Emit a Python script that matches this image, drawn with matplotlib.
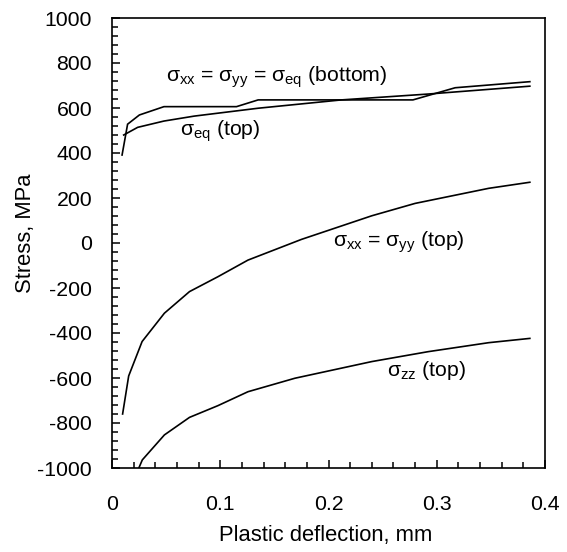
import matplotlib
matplotlib.use("Agg")
import matplotlib.pyplot as plt
from matplotlib.ticker import MultipleLocator

plt.rcParams['font.family'] = ['Liberation Sans', 'DejaVu Sans']
plt.rcParams['mathtext.fontset'] = 'custom'
plt.rcParams['mathtext.rm'] = 'Liberation Sans'
plt.rcParams['mathtext.it'] = 'Liberation Sans'
plt.rcParams['mathtext.bf'] = 'Liberation Sans'
plt.rcParams['axes.unicode_minus'] = False

# sigma_xx = sigma_yy = sigma_eq (bottom)
x_bottom = [0.0093, 0.0144, 0.0253, 0.048, 0.115, 0.135, 0.278, 0.317, 0.386]
y_bottom = [391, 528, 569, 606, 606, 636, 636, 690, 717]

# sigma_eq (top)
x_eq_top = [0.0108, 0.0237, 0.048, 0.076, 0.135, 0.212, 0.292, 0.386]
y_eq_top = [480, 514, 542, 564, 599, 636, 662, 697]

# sigma_xx = sigma_yy (top)
x_xx_top = [0.0098, 0.0154, 0.0278, 0.0484, 0.0716, 0.0978, 0.1256, 0.175, 0.240, 0.280, 0.348, 0.386]
y_xx_top = [-760, -591, -438, -312, -216, -150, -76, 16, 121, 176, 243, 270]

# sigma_zz (top)
x_zz_top = [0.0247, 0.028, 0.0484, 0.0716, 0.0978, 0.1256, 0.169, 0.240, 0.292, 0.348, 0.386]
y_zz_top = [-1001, -964, -853, -775, -723, -661, -601, -527, -483, -443, -424]

x_ticks = [0, 0.1, 0.2, 0.3, 0.4]
x_tick_labels = ['0', '0.1', '0.2', '0.3', '0.4']

W, H = 567, 552
fig = plt.figure(figsize=(W / 100, H / 100), dpi=100)
left, right, top, bottom = 112, 545, 18, 468
ax = fig.add_axes([left / W, 1 - bottom / H, (right - left) / W, (bottom - top) / H])

lw = 1.2
for xs, ys in [(x_bottom, y_bottom), (x_eq_top, y_eq_top), (x_xx_top, y_xx_top), (x_zz_top, y_zz_top)]:
    ax.plot(xs, ys, color='black', lw=lw, solid_joinstyle='miter')

ax.set_xlim(0, 0.4)
ax.set_ylim(-1000, 1000)
ax.xaxis.set_minor_locator(MultipleLocator(0.02))
ax.yaxis.set_major_locator(MultipleLocator(200))
ax.yaxis.set_minor_locator(MultipleLocator(40))
ax.set_xticks(x_ticks)
ax.set_xticklabels(x_tick_labels)
fs = 15.3
ax.tick_params(axis='both', which='both', direction='in', top=False, right=False,
               labelsize=fs, width=1.1)
ax.tick_params(axis='both', which='major', length=6)
ax.tick_params(axis='both', which='minor', length=4.5)
ax.tick_params(axis='y', which='major', pad=14.4)
ax.tick_params(axis='x', which='major', pad=19.5)
for s in ax.spines.values():
    s.set_linewidth(1.2)

fig.text(325.5 / W, 1 - 536 / H, 'Plastic deflection, mm', fontsize=fs + 0.5,
         ha='center', va='center')
fig.text(26 / W, 1 - 233 / H, 'Stress, MPa', fontsize=fs + 0.5, rotation=90,
         ha='center', va='center')

def px(xp, yp):
    return ((xp - left) / (right - left), (bottom - yp) / (bottom - top))

ax.text(*px(166, 77), r'$\sigma_{\rm xx}$ = $\sigma_{\rm yy}$ = $\sigma_{\rm eq}$ (bottom)',
        transform=ax.transAxes, fontsize=fs, va='center', ha='left')
ax.text(*px(180, 131), r'$\sigma_{\rm eq}$ (top)',
        transform=ax.transAxes, fontsize=fs, va='center', ha='left')
ax.text(*px(333, 242), r'$\sigma_{\rm xx}$ = $\sigma_{\rm yy}$ (top)',
        transform=ax.transAxes, fontsize=fs, va='center', ha='left')
ax.text(*px(387, 370), r'$\sigma_{\rm zz}$ (top)',
        transform=ax.transAxes, fontsize=fs, va='center', ha='left')

fig.savefig('out.png', dpi=100)
